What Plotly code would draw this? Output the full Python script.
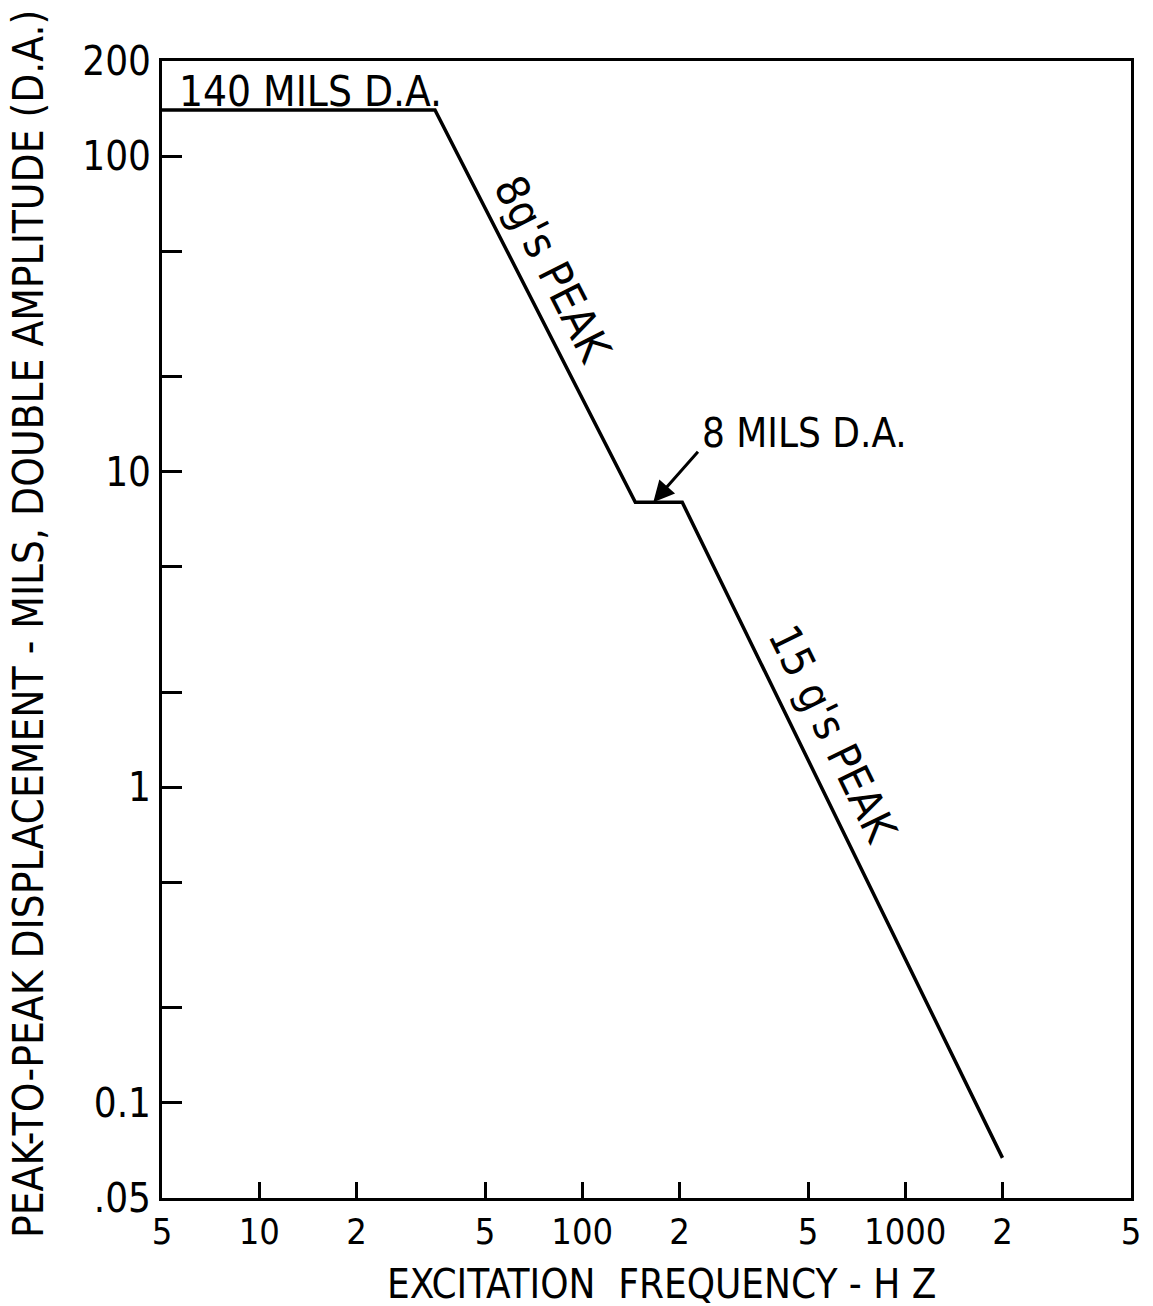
import plotly.graph_objects as go

# ---- data ----
freq_hz = [5, 35, 146, 204, 2000]
disp_mils = [140, 140, 8, 8, 0.067]

x_tickvals = [5, 10, 20, 50, 100, 200, 500, 1000, 2000, 5000]
x_ticktext = ["5", "10", "2", "5", "100", "2", "5", "1000", "2", "5"]
y_tickvals = [0.05, 0.1, 0.2, 0.5, 1, 2, 5, 10, 20, 50, 100, 200]
y_ticktext = [".05", "0.1", "", "", "1", "", "", "10", "", "", "100", "200"]

FONT = "Liberation Sans Narrow, DejaVu Sans Condensed, Liberation Sans, Arial"

fig = go.Figure()
fig.add_trace(go.Scatter(
    x=freq_hz, y=disp_mils, mode="lines",
    line=dict(color="black", width=3.5), showlegend=False, hoverinfo="skip"))

fig.update_layout(
    width=1153, height=1306,
    margin=dict(l=162, r=22, t=61, b=108),
    paper_bgcolor="white", plot_bgcolor="white",
    font=dict(family=FONT, color="black", size=36),
    showlegend=False,
)
fig.update_xaxes(
    type="log", range=[0.69897, 3.69897],
    tickvals=x_tickvals, ticktext=x_ticktext,
    ticks="inside", ticklen=16, tickwidth=3, tickcolor="black",
    showline=True, linewidth=3, linecolor="black", mirror=True,
    showgrid=False, zeroline=False,
    tickfont=dict(family=FONT, size=36),
)
fig.update_yaxes(
    type="log", range=[-1.30103, 2.30103],
    tickvals=y_tickvals, ticktext=y_ticktext,
    ticks="inside", ticklen=20, tickwidth=3, tickcolor="black",
    showline=True, linewidth=3, linecolor="black", mirror=True,
    showgrid=False, zeroline=False,
    tickfont=dict(family=FONT, size=40),
)

annotations = [
    # axis titles
    dict(text="EXCITATION\u00a0\u00a0FREQUENCY\u00a0-\u00a0H\u00a0Z", xref="paper", yref="paper",
         x=0.5155, y=-0.0756, xanchor="center", yanchor="middle", showarrow=False,
         font=dict(size=40)),
    dict(text="PEAK-TO-PEAK DISPLACEMENT - MILS, DOUBLE AMPLITUDE (D.A.)",
         xref="paper", yref="paper", x=-0.137, y=0.505, textangle=-90,
         xanchor="center", yanchor="middle", showarrow=False, font=dict(size=42)),
    # in-plot labels
    dict(text="140 MILS D.A.", xref="x", yref="y", x=0.745, y=2.206,
         xanchor="left", yanchor="middle", showarrow=False, font=dict(size=42)),
    dict(text="8g's PEAK", xref="x", yref="y", x=1.888, y=1.629, textangle=63,
         xanchor="center", yanchor="middle", showarrow=False, font=dict(size=45),
         xshift=7, yshift=4),
    dict(text="15 g's PEAK", xref="x", yref="y", x=2.761, y=0.165, textangle=64,
         xanchor="center", yanchor="middle", showarrow=False, font=dict(size=44),
         xshift=5, yshift=2),
    dict(text="8 MILS D.A.", xref="x", yref="y", x=2.365, y=1.122,
         xanchor="left", yanchor="middle", showarrow=False, font=dict(size=40)),
    dict(text="", xref="x", yref="y", x=2.220, y=0.903, ax=46, ay=-52,
         showarrow=True, arrowhead=2, arrowsize=1.4, arrowwidth=3,
         arrowcolor="black", standoff=0),
]
fig.update_layout(annotations=annotations)

fig.write_html("out.html")
